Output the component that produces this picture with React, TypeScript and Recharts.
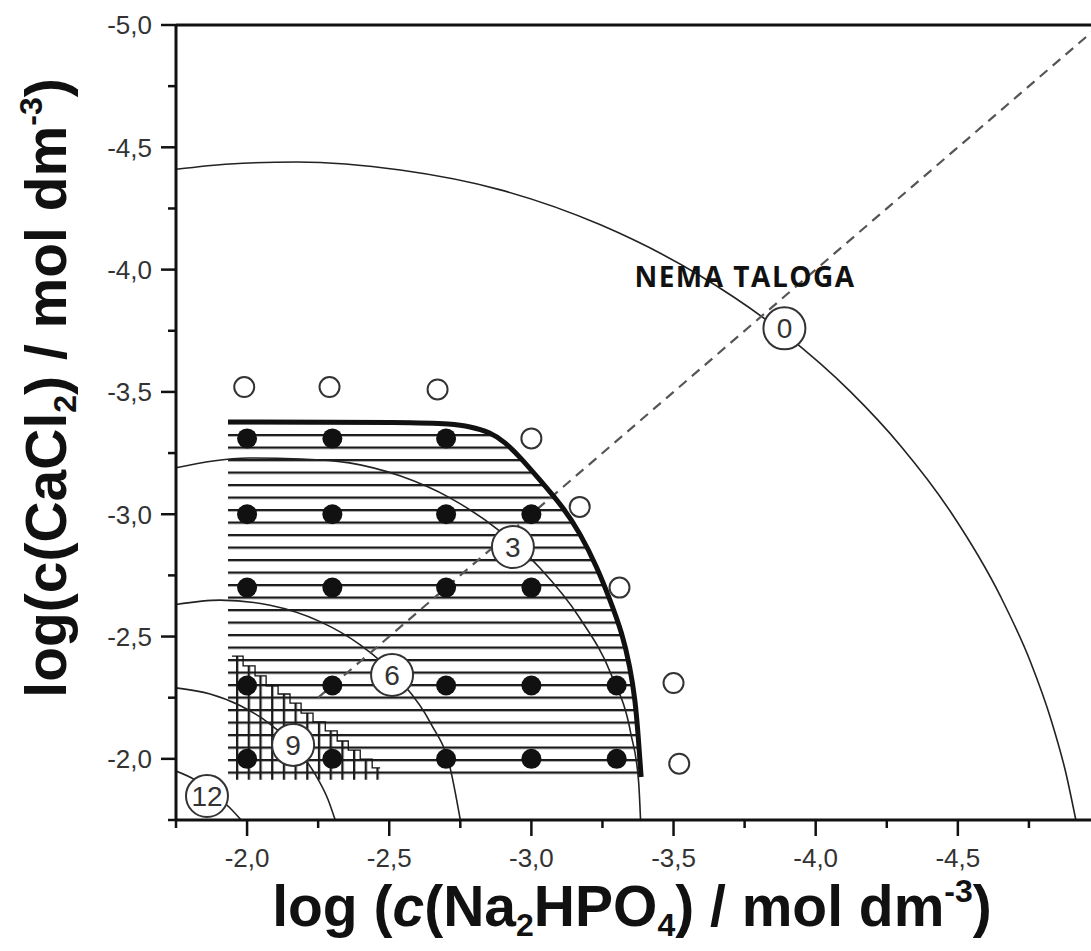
import React from "react";
import { ComposedChart, XAxis, YAxis, Line, Area, Scatter, ReferenceLine } from "recharts";

// log c(Na2HPO4) (x) vs log c(CaCl2) (y), both axes run toward -5 (reversed)
const X_TICKS = [-1.75, -2.0, -2.25, -2.5, -2.75, -3.0, -3.25, -3.5, -3.75, -4.0, -4.25, -4.5, -4.75, -5.0];
const Y_TICKS = [-5.0, -4.75, -4.5, -4.25, -4.0, -3.75, -3.5, -3.25, -3.0, -2.75, -2.5, -2.25, -2.0, -1.75];
// the -5,0 label on x falls outside the cropped figure
const X_LABELED = [-2.0, -2.5, -3.0, -3.5, -4.0, -4.5];
const Y_LABELED = [-5.0, -4.5, -4.0, -3.5, -3.0, -2.5, -2.0];

// filled dots = precipitate observed
const precipitated = [
  { x: -2.0, y: -3.31 }, { x: -2.3, y: -3.31 }, { x: -2.7, y: -3.31 },
  { x: -2.0, y: -3.0 }, { x: -2.3, y: -3.0 }, { x: -2.7, y: -3.0 }, { x: -3.0, y: -3.0 },
  { x: -2.0, y: -2.7 }, { x: -2.3, y: -2.7 }, { x: -2.7, y: -2.7 }, { x: -3.0, y: -2.7 },
  { x: -2.0, y: -2.3 }, { x: -2.3, y: -2.3 }, { x: -2.7, y: -2.3 }, { x: -3.0, y: -2.3 }, { x: -3.3, y: -2.3 },
  { x: -2.0, y: -2.0 }, { x: -2.3, y: -2.0 }, { x: -2.7, y: -2.0 }, { x: -3.0, y: -2.0 }, { x: -3.3, y: -2.0 },
];

// open circles = clear solutions
const clearSolutions = [
  { x: -1.99, y: -3.52 }, { x: -2.29, y: -3.52 }, { x: -2.67, y: -3.51 },
  { x: -3.0, y: -3.31 }, { x: -3.17, y: -3.03 }, { x: -3.31, y: -2.7 },
  { x: -3.5, y: -2.31 }, { x: -3.52, y: -1.98 },
];

// numbered rings on the diagonal
const ringLabels = [
  { x: -3.89, y: -3.76, label: "0" },
  { x: -2.935, y: -2.866, label: "3" },
  { x: -2.51, y: -2.343, label: "6" },
  { x: -2.162, y: -2.057, label: "9" },
  { x: -1.859, y: -1.848, label: "12" },
];

// iso-lines (arcs)
const arc0 = [
  { x: -1.75, y: -4.41 }, { x: -1.94, y: -4.432 }, { x: -2.176, y: -4.44 }, { x: -2.539, y: -4.407 },
  { x: -2.891, y: -4.326 }, { x: -3.243, y: -4.183 }, { x: -3.595, y: -3.974 }, { x: -3.891, y: -3.737 },
  { x: -4.123, y: -3.5 }, { x: -4.299, y: -3.279 }, { x: -4.475, y: -3.009 }, { x: -4.651, y: -2.662 },
  { x: -4.757, y: -2.392 }, { x: -4.827, y: -2.163 }, { x: -4.88, y: -1.942 }, { x: -4.915, y: -1.75 },
];
const arc3 = [
  { x: -1.75, y: -3.19 }, { x: -2.01, y: -3.23 }, { x: -2.19, y: -3.226 }, { x: -2.36, y: -3.21 },
  { x: -2.54, y: -3.156 }, { x: -2.715, y: -3.066 }, { x: -2.89, y: -2.93 }, { x: -3.03, y: -2.78 },
  { x: -3.17, y: -2.576 }, { x: -3.28, y: -2.347 }, { x: -3.35, y: -2.102 }, { x: -3.377, y: -1.909 },
  { x: -3.384, y: -1.75 },
];
const arc6 = [
  { x: -1.75, y: -2.631 }, { x: -1.905, y: -2.649 }, { x: -2.081, y: -2.628 }, { x: -2.257, y: -2.561 },
  { x: -2.398, y: -2.466 }, { x: -2.539, y: -2.32 }, { x: -2.644, y: -2.149 }, { x: -2.715, y: -1.959 },
  { x: -2.75, y: -1.75 },
];
const arc9 = [
  { x: -1.75, y: -2.29 }, { x: -1.87, y: -2.265 }, { x: -1.975, y: -2.218 }, { x: -2.081, y: -2.142 },
  { x: -2.169, y: -2.048 }, { x: -2.239, y: -1.938 }, { x: -2.285, y: -1.833 }, { x: -2.31, y: -1.75 },
];
const arc12 = [
  { x: -1.75, y: -1.95 }, { x: -1.817, y: -1.914 }, { x: -1.887, y: -1.852 }, { x: -1.94, y: -1.799 },
  { x: -1.979, y: -1.75 },
];

// precipitation boundary (thick line) = top of the hatched zone
const boundary = [
  { x: -1.933, y: -3.377 }, { x: -2.6, y: -3.376 }, { x: -2.714, y: -3.369 }, { x: -2.784, y: -3.359 },
  { x: -2.854, y: -3.336 }, { x: -2.907, y: -3.295 }, { x: -2.96, y: -3.234 }, { x: -3.03, y: -3.14 },
  { x: -3.111, y: -3.03 }, { x: -3.171, y: -2.923 }, { x: -3.231, y: -2.784 }, { x: -3.277, y: -2.649 },
  { x: -3.319, y: -2.515 }, { x: -3.347, y: -2.376 }, { x: -3.365, y: -2.241 }, { x: -3.375, y: -2.106 },
  { x: -3.386, y: -1.926 },
];

// staircase of the cross-hatched zone
const crossZone = [
  { x: -1.947, y: -2.42 }, { x: -1.986, y: -2.38 }, { x: -2.028, y: -2.339 }, { x: -2.067, y: -2.298 },
  { x: -2.109, y: -2.265 }, { x: -2.151, y: -2.228 }, { x: -2.19, y: -2.187 }, { x: -2.232, y: -2.151 },
  { x: -2.275, y: -2.114 }, { x: -2.317, y: -2.073 }, { x: -2.356, y: -2.036 }, { x: -2.398, y: -1.999 },
  { x: -2.44, y: -1.963 }, { x: -2.468, y: -1.963 },
];

const diagonal = [{ x: -2.25, y: -2.25 }, { x: -5.0, y: -5.0 }];

const FONT = "'Liberation Sans', Arial, Helvetica, sans-serif";
const INK = "#111";

const fmt = (v: number) => v.toFixed(1).replace(".", ",");
const isMajor = (v: number) => Math.abs(v * 2 - Math.round(v * 2)) < 1e-6;
const has = (list: number[], v: number) => list.some((t) => Math.abs(t - v) < 1e-6);

const XTick = (p: any) => {
  const v = p.payload.value;
  const major = isMajor(v);
  return (
    <g>
      <line x1={p.x} x2={p.x} y1={p.y} y2={p.y + (major ? 16 : 8)} stroke={INK} strokeWidth={2.5} />
      {has(X_LABELED, v) && (
        <text x={p.x} y={p.y + 28} dy="0.72em" textAnchor="middle" fontSize={26} fill="#333" fontFamily={FONT}>
          {fmt(v)}
        </text>
      )}
    </g>
  );
};

const YTick = (p: any) => {
  const v = p.payload.value;
  const major = isMajor(v);
  return (
    <g>
      <line x1={p.x - (major ? 15 : 8)} x2={p.x} y1={p.y} y2={p.y} stroke={INK} strokeWidth={2.5} />
      {has(Y_LABELED, v) && (
        <text x={p.x - 24} y={p.y} dy="0.36em" textAnchor="end" fontSize={26} fill="#333" fontFamily={FONT}>
          {fmt(v)}
        </text>
      )}
    </g>
  );
};

const FilledDot = (p: any) => <circle cx={p.cx} cy={p.cy} r={10} fill={INK} />;
const OpenDot = (p: any) => <circle cx={p.cx} cy={p.cy} r={10} fill="#fff" stroke="#333" strokeWidth={2} />;
const Ring = (p: any) => (
  <g>
    <circle cx={p.cx} cy={p.cy} r={21} fill="#fff" stroke="#333" strokeWidth={2} />
    <text x={p.cx} y={p.cy} dy="0.36em" textAnchor="middle" fontSize={28} fill="#333" fontFamily={FONT}>
      {p.payload.label}
    </text>
  </g>
);

export default function App() {
  return (
    <div style={{ position: "absolute", left: 0, top: 0, width: 1091, height: 951, overflow: "hidden", background: "#fff" }}>
      <svg width={0} height={0} style={{ position: "absolute" }}>
        <defs>
          <pattern id="hatchH" patternUnits="userSpaceOnUse" x={0} y={434} width={40} height={12.5}>
            <rect x={0} y={0} width={40} height={2.3} fill="#1a1a1a" />
          </pattern>
          <pattern id="hatchV" patternUnits="userSpaceOnUse" x={236} y={0} width={11.7} height={40}>
            <rect x={0} y={0} width={2.3} height={40} fill="#1a1a1a" />
          </pattern>
        </defs>
      </svg>

      <ComposedChart width={1120} height={951} margin={{ top: 25, right: 20, bottom: 0, left: 0 }}>
        <XAxis
          type="number"
          dataKey="x"
          domain={[-5, -1.75]}
          reversed
          allowDataOverflow
          ticks={X_TICKS}
          interval={0}
          height={131}
          tickSize={0}
          tickMargin={0}
          tickLine={false}
          axisLine={{ stroke: INK, strokeWidth: 3 }}
          tick={(p: any) => <XTick {...p} />}
        />
        <YAxis
          type="number"
          dataKey="y"
          domain={[-5, -1.75]}
          reversed
          allowDataOverflow
          ticks={Y_TICKS}
          interval={0}
          width={176}
          tickSize={0}
          tickMargin={0}
          tickLine={false}
          axisLine={{ stroke: INK, strokeWidth: 3 }}
          tick={(p: any) => <YTick {...p} />}
        />
        <ReferenceLine y={-5} stroke={INK} strokeWidth={3} />
        <ReferenceLine x={-5} stroke={INK} strokeWidth={3} />

        <Area data={boundary} dataKey="y" type="basis" baseValue={-1.93} fill="url(#hatchH)" fillOpacity={1} stroke="none" isAnimationActive={false} />
        <Area data={crossZone} dataKey="y" type="stepAfter" baseValue={-1.915} fill="url(#hatchV)" fillOpacity={1} stroke={INK} strokeWidth={1.3} isAnimationActive={false} />

        {[arc0, arc3, arc6, arc9, arc12].map((arc, i) => (
          <Line key={i} data={arc} dataKey="y" type="monotone" stroke="#222" strokeWidth={1.6} dot={false} activeDot={false} isAnimationActive={false} />
        ))}
        <Line data={diagonal} dataKey="y" type="linear" stroke="#555" strokeWidth={2.2} strokeDasharray="10 7" dot={false} activeDot={false} isAnimationActive={false} />
        <Line data={boundary} dataKey="y" type="basis" stroke={INK} strokeWidth={5} dot={false} activeDot={false} isAnimationActive={false} />

        <Scatter data={precipitated} shape={(p: any) => <FilledDot {...p} />} isAnimationActive={false} />
        <Scatter data={clearSolutions} shape={(p: any) => <OpenDot {...p} />} isAnimationActive={false} />
        <Scatter data={ringLabels} shape={(p: any) => <Ring {...p} />} isAnimationActive={false} />
      </ComposedChart>

      <svg width={1091} height={951} style={{ position: "absolute", left: 0, top: 0, pointerEvents: "none" }}>
        <text x={745} y={287} textAnchor="middle" fontSize={28} fontWeight="bold" letterSpacing={1.5} fill="#111" fontFamily="'Open Sans', 'Liberation Sans', sans-serif">
          NEMA TALOGA
        </text>
        <text transform="translate(66,388) rotate(-90)" textAnchor="middle" fontSize={57} fontWeight="bold" fill={INK} fontFamily={FONT}>
          log(c(CaCl<tspan dy={10} fontSize={32}>2</tspan><tspan dy={-10}>) / mol dm</tspan><tspan dy={-24} fontSize={32}>-3</tspan><tspan dy={24}>)</tspan>
        </text>
        <text x={632} y={926} textAnchor="middle" fontSize={57} fontWeight="bold" fill={INK} fontFamily={FONT}>
          log (<tspan fontStyle="italic">c</tspan>(Na<tspan dy={10} fontSize={32}>2</tspan><tspan dy={-10}>HPO</tspan><tspan dy={10} fontSize={32}>4</tspan><tspan dy={-10}>) / mol dm</tspan><tspan dy={-24} fontSize={32}>-3</tspan><tspan dy={24}>)</tspan>
        </text>
      </svg>
    </div>
  );
}
